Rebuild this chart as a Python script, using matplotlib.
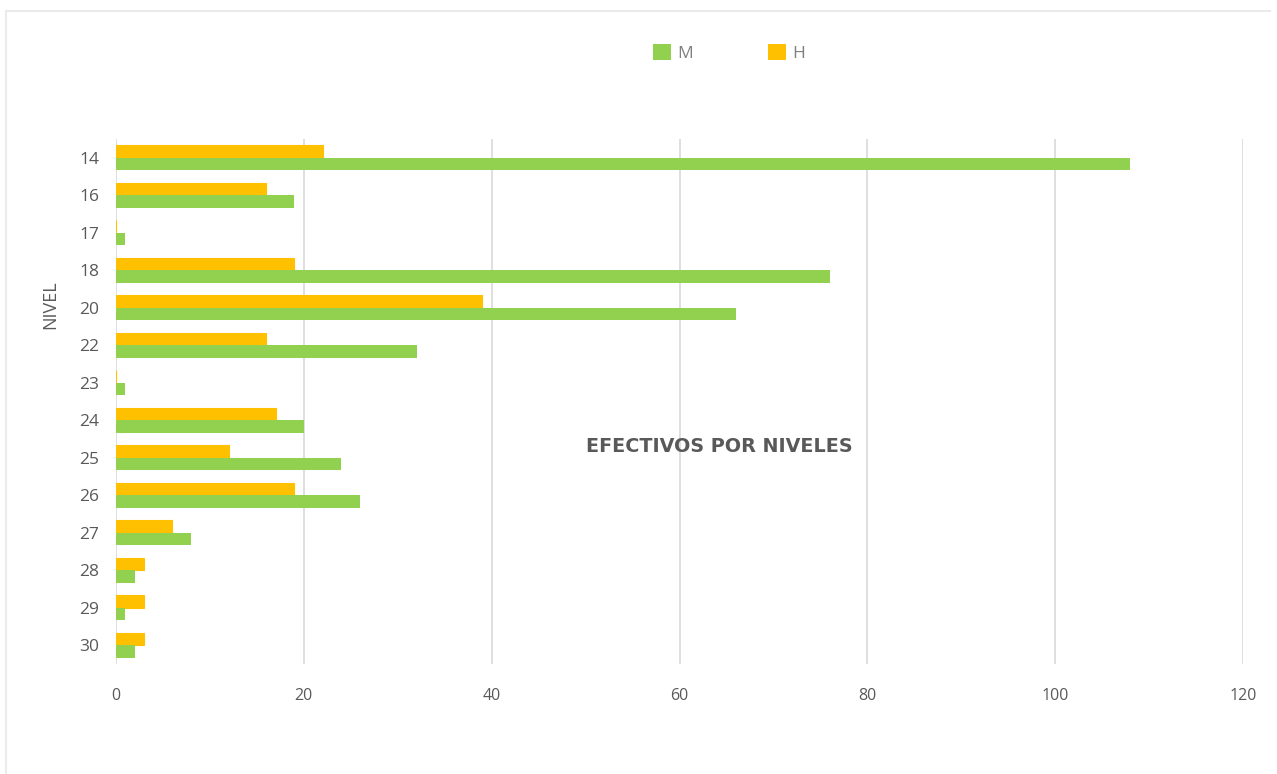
import matplotlib.pyplot as plt
import numpy as np
from matplotlib.lines import Line2D
from matplotlib.patches import Patch

plt.rcParams["font.family"] = ["Open Sans", "DejaVu Sans"]

NIVELES = ["14", "16", "17", "18", "20", "22", "23", "24", "25", "26", "27", "28", "29", "30"]
M_VALUES = [108, 19, 1, 76, 66, 32, 1, 20, 24, 26, 8, 2, 1, 2]
H_VALUES = [22, 16, 0, 19, 39, 16, 0, 17, 12, 19, 6, 3, 3, 3]
X_TICKS = [0, 20, 40, 60, 80, 100, 120]

GREEN = "#92d050"
GOLD = "#ffc000"
GRID = "#d9d9d9"
TEXT = "#595959"

fig = plt.figure(figsize=(12.77, 7.74), dpi=100)
ax = fig.add_axes([116 / 1277, 1 - 664 / 774, (1243 - 116) / 1277, (664 - 139) / 774])

y = np.arange(len(NIVELES))
h = 0.335
ax.barh(y - h / 2, H_VALUES, height=h, color=GOLD, edgecolor=GOLD, linewidth=0.8, zorder=3)
ax.barh(y + h / 2, M_VALUES, height=h, color=GREEN, linewidth=0, zorder=3)

ax.set_ylim(len(NIVELES) - 0.5, -0.5)
ax.set_xlim(0, 120)
ax.set_xticks(X_TICKS)
ax.set_yticks(y)
ax.set_yticklabels(NIVELES)
ax.tick_params(axis="y", length=0, labelsize=12.5, labelcolor=TEXT, pad=12)
ax.tick_params(axis="x", length=0, labelsize=11.5, labelcolor=TEXT, pad=17)
for s in ax.spines.values():
    s.set_visible(False)
ax.grid(axis="x", color=GRID, linewidth=1.2, zorder=0)
ax.set_axisbelow(True)

ax.set_ylabel("NIVEL", fontsize=13, color=TEXT)
ax.yaxis.set_label_coords(-0.05, 0.684)

fig.text(719 / 1277, 1 - 447 / 774, "EFECTIVOS POR NIVELES", ha="center", va="center",
         fontsize=13.8, fontweight="bold", color=TEXT, family="DejaVu Sans")

handles = [Patch(facecolor=GREEN), Patch(facecolor=GOLD)]
fig.legend(handles, ["M", "H"], loc="center", bbox_to_anchor=(729 / 1277, 1 - 53 / 774),
           ncol=2, frameon=False, fontsize=12.5, labelcolor="#7f7f7f", handlelength=1.05,
           handleheight=1.05, handletextpad=0.35, columnspacing=4.3)

# faint chart border (top and left edges visible)
fig.add_artist(Line2D([6 / 1277, 1270 / 1277], [1 - 11 / 774, 1 - 11 / 774], color="#ebebeb", lw=1.5))
fig.add_artist(Line2D([6 / 1277, 6 / 1277], [1 - 11 / 774, 0], color="#ebebeb", lw=1.5))

fig.savefig("out.png", dpi=100)
